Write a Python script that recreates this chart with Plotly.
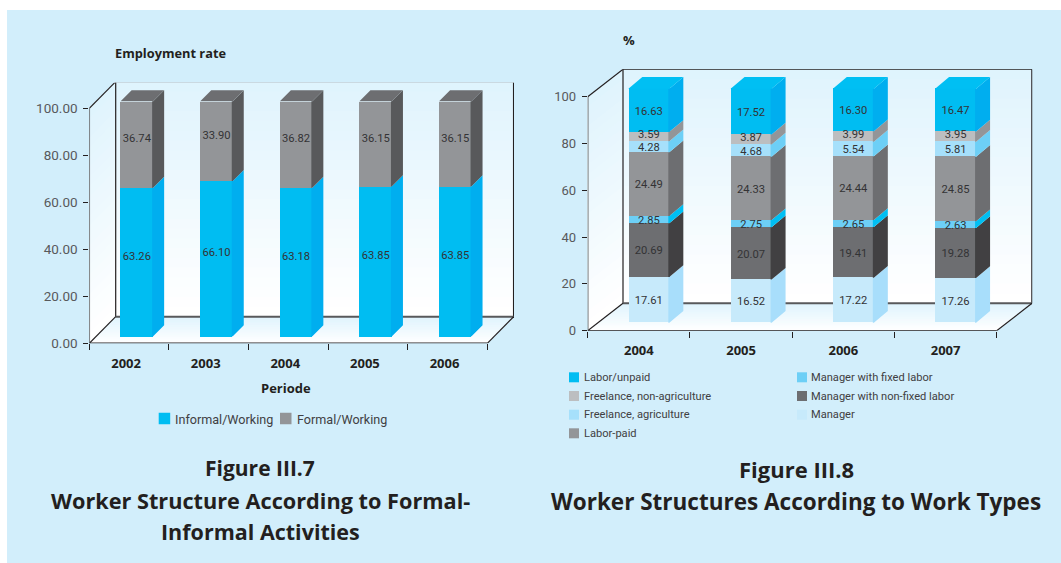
import plotly.graph_objects as go

# ---------- data ----------
years_a = ["2002", "2003", "2004", "2005", "2006"]
informal = [63.26, 66.10, 63.18, 63.85, 63.85]
formal = [36.74, 33.90, 36.82, 36.15, 36.15]
ticks_a = [0, 20, 40, 60, 80, 100]

years_b = ["2004", "2005", "2006", "2007"]
manager = [17.61, 16.52, 17.22, 17.26]
nonfixed = [20.69, 20.07, 19.41, 19.28]
fixed = [2.85, 2.75, 2.65, 2.63]
paid = [24.49, 24.33, 24.44, 24.85]
free_ag = [4.28, 4.68, 5.54, 5.81]
free_non = [3.59, 3.87, 3.99, 3.95]
unpaid = [16.63, 17.52, 16.30, 16.47]
ticks_b = [0, 20, 40, 60, 80, 100]

W, H = 1061, 563
PANEL = "#D2EEFB"
DARK = "#231F20"
GREY = "#58595B"
TXT = "#414042"
TICK = "#58595B"
BODY = "Roboto, Open Sans, sans-serif"
BOLD = "Open Sans, sans-serif"

series_a = [
    ("Informal/Working", informal, "#00BDF2", "#00AEEF"),
    ("Formal/Working", formal, "#939598", "#58595B"),
]
series_b = [
    ("Manager", manager, "#C7EAFB", "#A8DEFB"),
    ("Manager with non-fixed labor", nonfixed, "#6D6E71", "#414042"),
    ("Manager with fixed labor", fixed, "#6DCFF6", "#00BFF3"),
    ("Labor-paid", paid, "#939598", "#6D6E71"),
    ("Freelance, agriculture", free_ag, "#A6E0FB", "#6DCFF6"),
    ("Freelance, non-agriculture", free_non, "#BCBEC0", "#939598"),
    ("Labor/unpaid", unpaid, "#00BDF2", "#00AEEF"),
]

fig = go.Figure()
shapes = []
annots = []


def px(x):
    return x / W


def py(y):
    return 1 - y / H


def text(x, y, s, size, font=BODY, color=TXT, bold=False, anchor="center"):
    annots.append(dict(xref="paper", yref="paper", x=px(x), y=py(y), text=f"<b>{s}</b>" if bold else s,
                       showarrow=False, xanchor=anchor, yanchor="middle", borderpad=0,
                       font=dict(family=font, size=size, color=color)))


def lerp_col(t, a=(255, 255, 255), b=(222, 243, 253)):
    return "rgb(%d,%d,%d)" % tuple(round(a[i] + (b[i] - a[i]) * t) for i in range(3))


def poly(pts, xr, yr, fill):
    path = "M" + " L".join(f"{x:.4f},{y:.4f}" for x, y in pts) + " Z"
    shapes.append(dict(type="path", path=path, xref=xr, yref=yr, layer="below",
                       fillcolor=fill, line=dict(width=0)))


def line(p, q, xr, yr, color, width):
    shapes.append(dict(type="line", x0=p[0], y0=p[1], x1=q[0], y1=q[1], xref=xr, yref=yr,
                       layer="below", line=dict(color=color, width=width)))


def chart(n, cats, series, tickvals, tickfmt, geo):
    xr, yr = ("x", "y") if n == 1 else (f"x{n}", f"y{n}")
    ux = (geo["front_r"] - geo["left"]) / len(cats)
    uy = (geo["y0"] - geo["y100"]) / 100
    ddx, ddy = geo["dx"] / ux, geo["dy"] / uy
    xmin, xmax = -0.5, -0.5 + (geo["left_back_r"] - geo["left"]) / ux
    ymax = (geo["y0"] - geo["top"]) / uy
    nc = len(cats)
    xl, xf = xmin, xmin + nc

    # walls and floor, painted with overlapping slices
    N = 24
    for i in range(N):
        t = i / N
        yb = ddy + 100 * t
        poly([(xl + ddx, yb), (xf + ddx, yb), (xf + ddx, ddy + 100), (xl + ddx, ddy + 100)], xr, yr, lerp_col(t))
        poly([(xl, 100 * t), (xl + ddx, ddy + 100 * t), (xl + ddx, ddy + 100), (xl, 100)], xr, yr, lerp_col(t))
        poly([(xl + ddx * t, ddy * t), (xf + ddx * t, ddy * t), (xf + ddx, ddy), (xl + ddx, ddy)], xr, yr, lerp_col(t))

    # frame
    line((xl + ddx, ddy), (xl + ddx, ddy + 100), xr, yr, DARK, 1.2)
    line((xl + ddx, ddy + 100), (xf + ddx, ddy + 100), xr, yr, DARK, 1.5)
    line((xf + ddx, ddy + 100), (xf + ddx, ddy), xr, yr, DARK, 1.5)
    line((xl + ddx, ddy), (xf + ddx, ddy), xr, yr, GREY, 2)
    line((xl, 100), (xl + ddx, ddy + 100), xr, yr, DARK, 1.2)
    line((xl, 0), (xl + ddx, ddy), xr, yr, DARK, 1.2)
    line((xf, 0), (xf + ddx, ddy), xr, yr, DARK, 1.2)
    line((xl, 0), (xf, 0), xr, yr, DARK, 1.5)
    line((xl, 0), (xl, 100), xr, yr, GREY, 1.5)

    # bars
    off_x, off_y = geo["bar_dx"] / ux, geo["bar_dy"] / uy
    bw = geo["bar_w"] / ux
    sx, sy = geo["side_dx"] / ux, geo["side_dy"] / uy
    seam = 1.0 / ux
    cum = [0.0] * nc
    totals = [sum(s[1][i] for s in series) for i in range(nc)]
    centers = [i + off_x for i in range(nc)]
    for name, vals, col, side in series:
        hts = [100 * v / totals[i] for i, v in enumerate(vals)]
        bases = [cum[i] + off_y for i in range(nc)]
        fig.add_trace(go.Bar(x=centers, y=hts, base=bases, width=bw, name=name, showlegend=False,
                             marker=dict(color=col, line=dict(width=0)), xaxis=xr, yaxis=yr, hoverinfo="skip"))
        for i in range(nc):
            xe = centers[i] + bw / 2
            y0b, y1b = bases[i], bases[i] + hts[i]
            fig.add_trace(go.Scatter(x=[xe - seam, xe, xe + sx, xe + sx, xe, xe - seam, xe - seam],
                                     y=[y0b, y0b, y0b + sy, y1b + sy, y1b, y1b, y0b], mode="lines", fill="toself",
                                     fillcolor=side, line=dict(width=0), showlegend=False, hoverinfo="skip",
                                     xaxis=xr, yaxis=yr))
        cum = [cum[i] + hts[i] for i in range(nc)]
    # top face
    for i in range(nc):
        a, b = centers[i] - bw / 2, centers[i] + bw / 2
        top = cum[i] + off_y
        fig.add_trace(go.Scatter(x=[a, a + sx, b + sx, b, a], y=[top, top + sy, top + sy, top, top],
                                 mode="lines", fill="toself", fillcolor=geo["top_col"], line=dict(width=0),
                                 showlegend=False, hoverinfo="skip", xaxis=xr, yaxis=yr))
    # value labels, above every face
    cum = [0.0] * nc
    for name, vals, col, side in series:
        hts = [100 * v / totals[i] for i, v in enumerate(vals)]
        lab_dy = geo["lab_nudge"].get(name, geo["lab_dy"])
        fig.add_trace(go.Scatter(x=centers, y=[cum[i] + off_y + hts[i] / 2 + lab_dy / uy for i in range(nc)],
                                 mode="text", text=[f"{v:.2f}" for v in vals], textposition="middle center",
                                 textfont=dict(family=BODY, size=geo["lab_size"], color="#333335"),
                                 showlegend=False, hoverinfo="skip", xaxis=xr, yaxis=yr))
        cum = [cum[i] + hts[i] for i in range(nc)]

    xa = dict(domain=[px(geo["left"]), px(geo["left_back_r"])], range=[xmin, xmax], showgrid=False, zeroline=False,
              showline=False, tickmode="array", tickvals=[i + geo["lab_shift"] / ux for i in range(nc)], ticktext=cats,
              ticks="outside", ticklen=geo["cat_gap"], tickcolor="rgba(0,0,0,0)", automargin=False,
              tickfont=dict(family=BOLD, size=13, color=DARK, weight="bold"),
              minor=dict(tickmode="array", tickvals=[xmin + i for i in range(nc + 1)], ticks="outside", ticklen=6,
                         tickcolor=DARK, tickwidth=1, showgrid=False),
              anchor=yr)
    ya = dict(domain=[py(geo["y0"]), py(geo["top"])], range=[0, ymax], showgrid=False, zeroline=False, showline=False,
              tickmode="array", tickvals=tickvals, ticks="outside", ticklen=5, tickcolor=DARK, tickwidth=1,
              automargin=False, ticklabelstandoff=geo["y_gap"],
              tickformat=tickfmt, tickfont=dict(family=BODY, size=geo["y_size"], color=TICK), anchor=xr)
    key = "" if n == 1 else str(n)
    fig.update_layout({f"xaxis{key}": xa, f"yaxis{key}": ya})


def swatch(x, y, s, col):
    shapes.append(dict(type="rect", xref="paper", yref="paper", x0=px(x), x1=px(x + s), y0=py(y + s / 2),
                       y1=py(y - s / 2), fillcolor=col, line=dict(width=0), layer="above"))


# panel
shapes.append(dict(type="rect", xref="paper", yref="paper", x0=px(7), x1=1, y0=0, y1=py(10),
                   fillcolor=PANEL, line=dict(width=0), layer="below"))

chart(1, years_a, series_a, ticks_a, ".2f",
      dict(left=89.3, front_r=487.3, left_back_r=514, y0=343.3, y100=108.3, top=82.7, dx=26.4, dy=26.6,
           bar_dx=7.8, bar_dy=7, bar_w=32.5, side_dx=11, side_dy=11, lab_dy=5, lab_nudge={}, lab_size=11.2,
           top_col="#6D6E71", lab_shift=-3, cat_gap=8, y_size=13.5, y_gap=3))
chart(2, years_b, series_b, ticks_b, "d",
      dict(left=587.7, front_r=996.7, left_back_r=1032.3, y0=330.7, y100=96.7, top=69.3, dx=35.3, dy=27.4,
           bar_dx=10, bar_dy=8, bar_w=41, side_dx=14, side_dy=11.7, lab_dy=-1.5,
           lab_nudge={"Freelance, non-agriculture": 1.3}, lab_size=11.2,
           top_col="#00BFF3", lab_shift=0, cat_gap=8, y_size=13, y_gap=3))

# free-standing text
text(113.7, 52.7, "Employment rate", 12.8, BOLD, DARK, True, "left")
text(286, 387.7, "Periode", 13, BOLD, DARK, True)
text(629.3, 40, "%", 13, BOLD, DARK, True)

# legends
swatch(158.7, 418.5, 11.5, "#00BDF2")
text(173.7, 419, "Informal/Working", 12.6, BODY, TXT, False, "left")
swatch(280, 418.5, 11.5, "#939598")
text(295.7, 419, "Formal/Working", 12.6, BODY, TXT, False, "left")

leg_left = [("Labor/unpaid", "#00BDF2"), ("Freelance, non-agriculture", "#BCBEC0"),
            ("Freelance, agriculture", "#A6E0FB"), ("Labor-paid", "#939598")]
leg_right = [("Manager with fixed labor", "#6DCFF6"), ("Manager with non-fixed labor", "#6D6E71"),
             ("Manager", "#C7EAFB")]
rows = [377.3, 396, 414.7, 433.3]
for (nm, c), y in zip(leg_left, rows):
    swatch(569, y, 10, c)
    text(582.7, y, nm, 11.1, BODY, TXT, False, "left")
for (nm, c), y in zip(leg_right, rows):
    swatch(797, y, 10, c)
    text(810, y, nm, 11.1, BODY, TXT, False, "left")

# captions
text(260, 468.3, "Figure III.7", 21, BOLD, DARK, True)
text(260, 500, "Worker Structure According to Formal-", 21.7, BOLD, DARK, True)
text(260, 531, "Informal Activities", 21.5, BOLD, DARK, True)
text(796.7, 469, "Figure III.8", 22, BOLD, DARK, True)
text(796, 501, "Worker Structures According to Work Types", 22.5, BOLD, DARK, True)

fig.update_layout(width=W, height=H, autosize=False, margin=dict(l=0, r=0, t=0, b=0), paper_bgcolor="white",
                  plot_bgcolor="rgba(0,0,0,0)", barmode="overlay", showlegend=False, shapes=shapes,
                  annotations=annots, bargap=0)
fig.write_html("out.html", config=dict(displayModeBar=False),
               post_script="document.body.style.margin='0';document.documentElement.style.overflow='hidden';")
